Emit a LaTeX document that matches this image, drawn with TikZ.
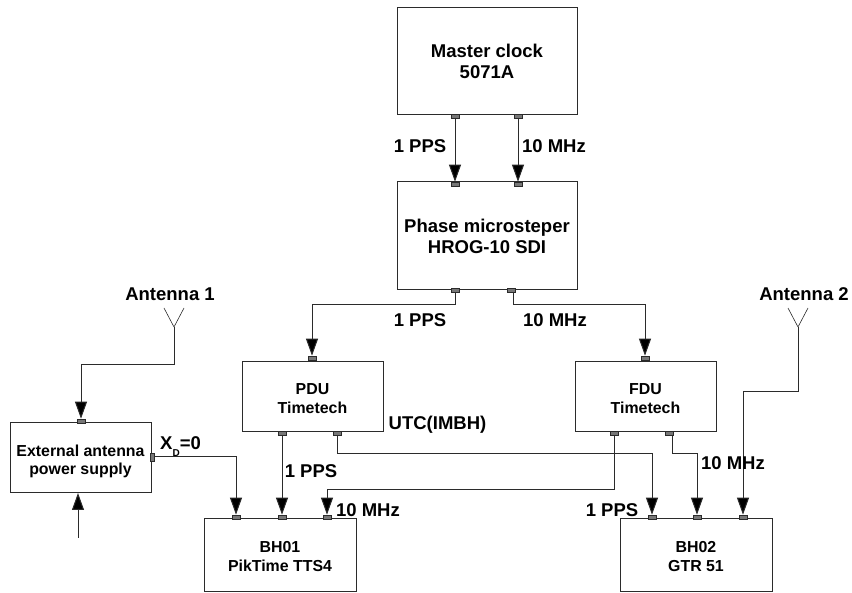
\documentclass[tikz,border=0pt]{standalone}
\usepackage{fontspec}
\setmainfont{Liberation Sans}
\usetikzlibrary{arrows.meta}
\definecolor{ink}{HTML}{2B2B2B}
\definecolor{portgray}{HTML}{777777}
\tikzset{
  blk/.style={rectangle, draw=ink, fill=white, line width=1pt, align=center, inner sep=0pt},
  bigblk/.style={blk, font=\fontsize{18.5}{21}\selectfont\bfseries},
  midblk/.style={blk, font=\fontsize{15.9}{19}\selectfont\bfseries},
  porth/.style={rectangle, draw=ink, fill=portgray, line width=.6pt, minimum width=8pt, minimum height=4pt, inner sep=0pt},
  portv/.style={porth, minimum width=4pt, minimum height=8pt},
  wire/.style={draw=ink, line width=1pt},
  fl/.style={wire, -{Triangle[length=17pt,width=12pt,fill=black]}},
  lbl/.style={font=\fontsize{18.5}{21}\selectfont\bfseries, text=black, inner sep=0pt}
}
\begin{document}
\begin{tikzpicture}[x=1pt, y=-1pt]
  \useasboundingbox (0,0) rectangle (852,593);
  % blocks
  \node[bigblk, minimum width=180pt, minimum height=107pt] (master) at (487,61.5) {Master clock\\5071A};
  \node[bigblk, minimum width=180pt, minimum height=108pt] (phase) at (487,236) {Phase microsteper\\HROG-10 SDI};
  \node[midblk, minimum width=141pt, minimum height=70pt] (pdu) at (312.5,397) {\rule{0pt}{15pt}PDU\\Timetech};
  \node[midblk, minimum width=141pt, minimum height=70pt] (fdu) at (645.5,397) {\rule{0pt}{15pt}FDU\\Timetech};
  \node[midblk, font=\fontsize{15.9}{18.5}\selectfont\bfseries, minimum width=141pt, minimum height=70pt] (ext) at (80.5,458) {\rule{0pt}{18pt}External antenna\\power supply};
  \node[midblk, minimum width=152pt, minimum height=72pt] (bh1) at (280,555) {\rule{0pt}{14pt}BH01\\PikTime TTS4};
  \node[midblk, minimum width=152pt, minimum height=72pt] (bh2) at (696,555) {\rule{0pt}{14pt}BH02\\GTR 51};
  % ports
  \node[porth] (mo1) at (455,116) {};
  \node[porth] (mo2) at (518,116) {};
  \node[porth] (pi1) at (455,184) {};
  \node[porth] (pi2) at (518,184) {};
  \node[porth] (po1) at (455,290) {};
  \node[porth] (po2) at (511,290) {};
  \node[porth] (di1) at (312,358) {};
  \node[porth] (fi1) at (645,358) {};
  \node[porth] (do1) at (282,433) {};
  \node[porth] (do2) at (337,433) {};
  \node[porth] (fo1) at (614,433) {};
  \node[porth] (fo2) at (669,433) {};
  \node[porth] (ei1) at (81,421) {};
  \node[portv] (eo1) at (152,457) {};
  \node[porth] (a1) at (236,517) {};
  \node[porth] (a2) at (282,517) {};
  \node[porth] (a3) at (327,517) {};
  \node[porth] (b1) at (652,517) {};
  \node[porth] (b2) at (697,517) {};
  \node[porth] (b3) at (743,517) {};
  % antennas and free ends
  \coordinate (ant1) at (174,327);
  \coordinate (ant2) at (798,327);
  \coordinate (refin) at (78,538);
  \coordinate (refend) at (78,493);
  \coordinate (lanep) at (0,305);
  \coordinate (laneu) at (0,454);
  \coordinate (lanef) at (0,490);
  \coordinate (lanea) at (0,365);
  \coordinate (laneb) at (0,392);
  \draw[wire, line width=.6pt] (ant1) -- ++(-10,-19) (ant1) -- ++(10,-19);
  \draw[wire, line width=.6pt] (ant2) -- ++(-10,-19) (ant2) -- ++(10,-19);
  % connectors
  \draw[fl] (mo1) -- (pi1.north);
  \draw[fl] (mo2) -- (pi2.north);
  \draw[fl] (po1.south) -- (po1.south |- lanep) -| (di1.north);
  \draw[fl] ([xshift=2pt]po2.south) -- ([xshift=2pt]po2.south |- lanep) -| (fi1.north);
  \draw[fl] (do1.south) -- (a2.north);
  \draw[fl] (do2.south) -- (do2.south |- laneu) -| (b1.north);
  \draw[fl] (fo1.south) -- (fo1.south |- lanef) -| (a3.north);
  \draw[fl] ([xshift=3pt]fo2.south) -- ([xshift=3pt]fo2.south |- laneu) -| (b2.north);
  \draw[fl] (eo1.east) -| (a1.north);
  \draw[fl] (ant1) -- (ant1 |- lanea) -| (ei1.north);
  \draw[fl] (ant2) -- (ant2 |- laneb) -| (b3.north);
  \draw[fl] (refin) -- (refend);
  % labels
  \node[lbl] (l1) at (420,146) {1 PPS};
  \node[lbl] (l2) at (554,146) {10 MHz};
  \node[lbl] (l3) at (420,320) {1 PPS};
  \node[lbl] (l4) at (555,320) {10 MHz};
  \node[lbl] (l5) at (437.5,425) {UTC(IMBH)};
  \node[lbl] (l6) at (311,471) {1 PPS};
  \node[lbl] (l7) at (368,510) {10 MHz};
  \node[lbl] (l8) at (733,463) {10 MHz};
  \node[lbl] (l9) at (612,510) {1 PPS};
  \node[lbl] (l10) at (170,294) {Antenna 1};
  \node[lbl] (l11) at (804,294) {Antenna 2};
  \node[lbl, anchor=base west] (l12) at (160,450) {X\raisebox{-7pt}{\fontsize{10}{10}\selectfont D}=0};
\end{tikzpicture}
\end{document}
